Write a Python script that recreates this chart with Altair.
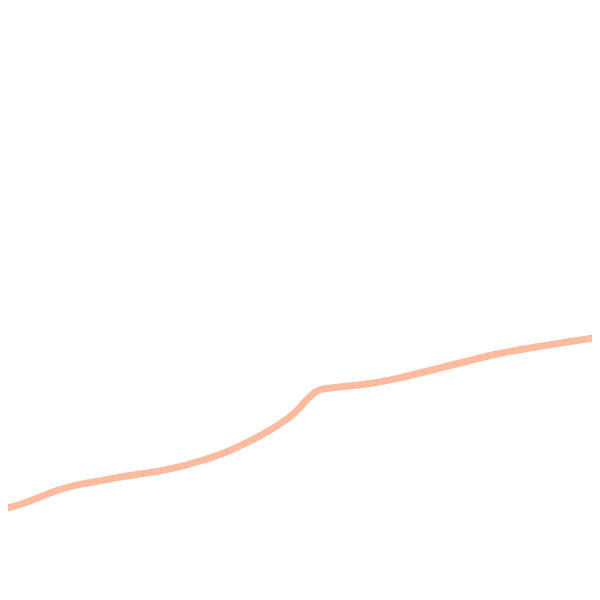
import altair as alt
import pandas as pd

xs = [0, 20, 40, 60, 80, 100, 120, 140, 160, 180, 200, 220, 240, 260, 270, 280, 290,
      300, 305, 310, 315, 320, 340, 360, 380, 400, 420, 440, 460, 480, 500, 530, 560, 600]
ys = [90, 95, 103, 111, 116, 119, 123, 126, 129, 133, 139, 145, 154, 164, 170, 176, 183,
      192, 199, 203, 208, 211, 213, 215, 218, 222, 227, 232, 237, 242, 247, 252, 257, 263]

df = pd.DataFrame({"x": xs, "y": ys})

chart = alt.Chart(df).mark_line(
    color="#fcbb9f", strokeWidth=7, interpolate="basis", clip=True,
).encode(
    x=alt.X("x:Q", scale=alt.Scale(domain=[8, 592], nice=False, zero=False), axis=None),
    y=alt.Y("y:Q", scale=alt.Scale(domain=[8, 592], nice=False, zero=False), axis=None),
).properties(
    width=584, height=584, padding=0, autosize=alt.AutoSizeParams(type="none")
).configure_view(stroke=None)

chart.save("out.html", embed_options={"renderer": "svg", "actions": False})
